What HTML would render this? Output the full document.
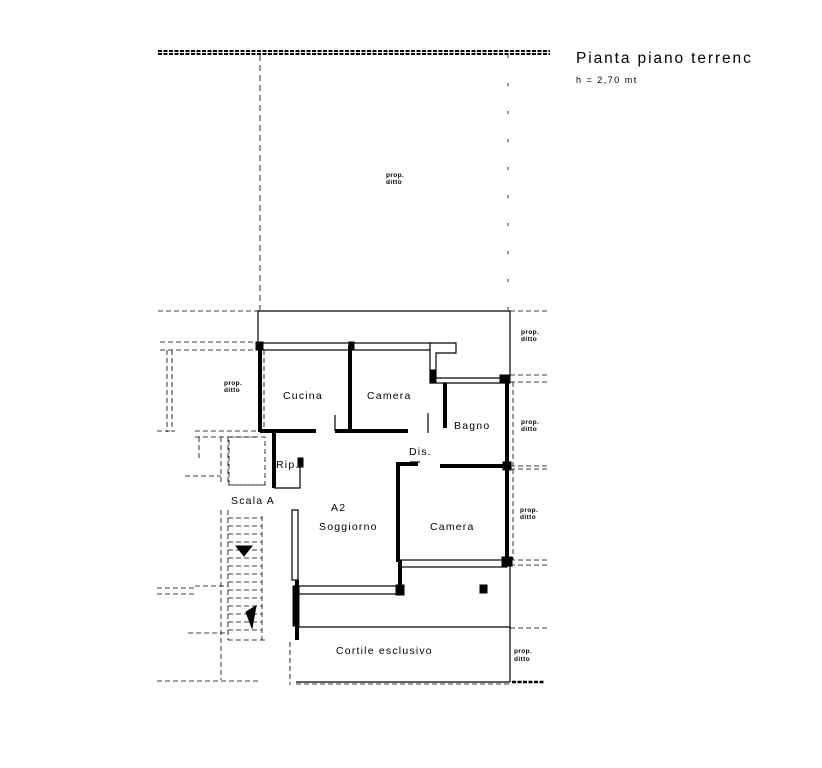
<!DOCTYPE html>
<html><head><meta charset="utf-8"><style>
html,body{margin:0;padding:0;background:#fff;}
svg{display:block}
text{font-family:"Liberation Sans",sans-serif;fill:#000}
</style></head><body>
<svg width="822" height="768" viewBox="0 0 822 768" xmlns="http://www.w3.org/2000/svg">
<g stroke="#000" fill="none">
<line x1="158" y1="51" x2="550" y2="51" stroke-width="2" stroke-dasharray="4,1.5"/>
<line x1="158" y1="54" x2="550" y2="54" stroke-width="2" stroke-dasharray="4,1.5"/>
<line x1="260" y1="55" x2="260" y2="310" stroke-width="0.8" stroke-dasharray="6,4"/>
<line x1="508" y1="55" x2="508" y2="310" stroke-width="0.8" stroke-dasharray="3,25"/>
<polyline points="258,345 258,311 510,311 510,377" stroke-width="1.2"/>
<g stroke-width="0.8" stroke-dasharray="5,3">
<line x1="158" y1="311" x2="258" y2="311"/>
<line x1="510" y1="311" x2="550" y2="311"/>
<line x1="160" y1="342" x2="258" y2="342"/>
<line x1="160" y1="350" x2="258" y2="350"/>
<line x1="167" y1="350" x2="167" y2="432"/>
<line x1="172" y1="350" x2="172" y2="432"/>
<line x1="157" y1="431" x2="175" y2="431"/>
<line x1="195" y1="431" x2="258" y2="431"/>
<line x1="195" y1="437" x2="258" y2="437"/>
<line x1="199" y1="437" x2="199" y2="460"/>
<line x1="221" y1="437" x2="221" y2="483"/>
<line x1="228" y1="437" x2="228" y2="485"/>
<rect x="229" y="437" width="36" height="48"/>
<line x1="185" y1="476" x2="221" y2="476"/>
<line x1="228" y1="485" x2="268" y2="485"/>
<line x1="221" y1="510" x2="221" y2="680"/>
<line x1="228" y1="510" x2="228" y2="640"/>
<line x1="228" y1="518" x2="262" y2="518"/>
<line x1="228" y1="526" x2="262" y2="526"/>
<line x1="228" y1="534" x2="262" y2="534"/>
<line x1="228" y1="542" x2="262" y2="542"/>
<line x1="228" y1="550" x2="262" y2="550"/>
<line x1="228" y1="558" x2="262" y2="558"/>
<line x1="228" y1="566" x2="262" y2="566"/>
<line x1="228" y1="574" x2="262" y2="574"/>
<line x1="228" y1="582" x2="262" y2="582"/>
<line x1="228" y1="590" x2="262" y2="590"/>
<line x1="228" y1="598" x2="262" y2="598"/>
<line x1="228" y1="606" x2="262" y2="606"/>
<line x1="228" y1="614" x2="262" y2="614"/>
<line x1="228" y1="622" x2="262" y2="622"/>
<line x1="228" y1="630" x2="262" y2="630"/>
<line x1="262" y1="516" x2="262" y2="640"/>
<line x1="157" y1="588" x2="195" y2="588"/>
<line x1="157" y1="594" x2="195" y2="594"/>
<line x1="195" y1="586" x2="228" y2="586"/>
<line x1="188" y1="633" x2="228" y2="633"/>
<line x1="228" y1="640" x2="268" y2="640"/>
<line x1="157" y1="681" x2="260" y2="681"/>
<line x1="290" y1="642" x2="290" y2="685"/>
<line x1="510" y1="375" x2="550" y2="375"/>
<line x1="510" y1="382" x2="550" y2="382"/>
<line x1="513" y1="382" x2="513" y2="466"/>
<line x1="510" y1="466" x2="550" y2="466"/>
<line x1="510" y1="469" x2="550" y2="469"/>
<line x1="513" y1="469" x2="513" y2="560"/>
<line x1="510" y1="560" x2="550" y2="560"/>
<line x1="510" y1="565" x2="550" y2="565"/>
<line x1="510" y1="628" x2="550" y2="628"/>
<line x1="296" y1="684" x2="510" y2="684"/>
<line x1="264" y1="350" x2="264" y2="430"/>
</g>
<line x1="512" y1="682" x2="545" y2="682" stroke-width="2.5" stroke-dasharray="4,1.5"/>
<g stroke-width="4">
<line x1="260" y1="344" x2="260" y2="432"/>
<line x1="350" y1="345" x2="350" y2="431"/>
<line x1="260" y1="431" x2="316" y2="431"/>
<line x1="335" y1="431" x2="408" y2="431"/>
<line x1="445" y1="383" x2="445" y2="428"/>
<line x1="440" y1="466" x2="507" y2="466"/>
<line x1="507" y1="377" x2="507" y2="562"/>
<line x1="274" y1="431" x2="274" y2="488"/>
<line x1="398" y1="462" x2="398" y2="562"/>
<line x1="398" y1="464" x2="418" y2="464"/>
<line x1="297" y1="580" x2="297" y2="640"/>
<line x1="400" y1="560" x2="400" y2="593"/>
</g>
<g stroke-width="1.2">
<rect x="258" y="343" width="172" height="7"/>
<polyline points="430,350 430,383 510,383"/>
<polyline points="430,343 456,343 456,353 436,353 436,378 510,378"/>
<rect x="292" y="510" width="6" height="70"/>
<polyline points="274,488 300,488 300,460"/>
<rect x="298" y="586" width="104" height="8"/>
<rect x="400" y="560" width="107" height="7"/>
<polyline points="296,627 510,627 510,562"/>
<line x1="296" y1="682" x2="510" y2="682"/>
<line x1="510" y1="627" x2="510" y2="682"/>
<line x1="335" y1="415" x2="335" y2="431"/>
<line x1="428" y1="413" x2="428" y2="433"/>
<line x1="410" y1="462" x2="420" y2="462"/>
</g>
<rect x="256" y="342" width="7" height="8" fill="#000"/>
<rect x="349" y="342" width="5" height="8" fill="#000"/>
<rect x="500" y="375" width="10" height="8" fill="#000"/>
<rect x="503" y="462" width="8" height="8" fill="#000"/>
<rect x="502" y="557" width="10" height="9" fill="#000"/>
<rect x="396" y="585" width="8" height="10" fill="#000"/>
<rect x="293" y="586" width="6" height="40" fill="#000"/>
<rect x="480" y="585" width="7" height="8" fill="#000"/>
<rect x="298" y="458" width="5" height="9" fill="#000"/>
<rect x="430" y="370" width="6" height="12" fill="#000"/>
<polygon points="236,546 252,546 244,556" fill="#000"/>
<polygon points="246,612 256,606 252,628" fill="#000"/>
</g>
<text x="576" y="63" font-size="15.5" letter-spacing="1.9">Pianta piano terrenc</text>
<text x="576" y="83" font-size="9" letter-spacing="1.5">h = 2,70 mt</text>
<g font-size="6.5" font-weight="bold" letter-spacing="0.4">
<text x="386" y="177">prop.</text><text x="386" y="184">ditto</text>
<text x="224" y="385">prop.</text><text x="224" y="392">ditto</text>
<text x="521" y="334">prop.</text><text x="521" y="341">ditto</text>
<text x="521" y="424">prop.</text><text x="521" y="431">ditto</text>
<text x="520" y="512">prop.</text><text x="520" y="519">ditto</text>
<text x="514" y="653">prop.</text><text x="514" y="661">ditto</text>
</g>
<g font-size="10.5" letter-spacing="1.2">
<text x="283" y="399">Cucina</text>
<text x="367" y="399">Camera</text>
<text x="454" y="429">Bagno</text>
<text x="409" y="455">Dis.</text>
<text x="276" y="468">Rip.</text>
<text x="331" y="511">A2</text>
<text x="319" y="530">Soggiorno</text>
<text x="430" y="530">Camera</text>
<text x="231" y="504">Scala A</text>
<text x="336" y="654">Cortile esclusivo</text>
</g>
</svg>
</body></html>
